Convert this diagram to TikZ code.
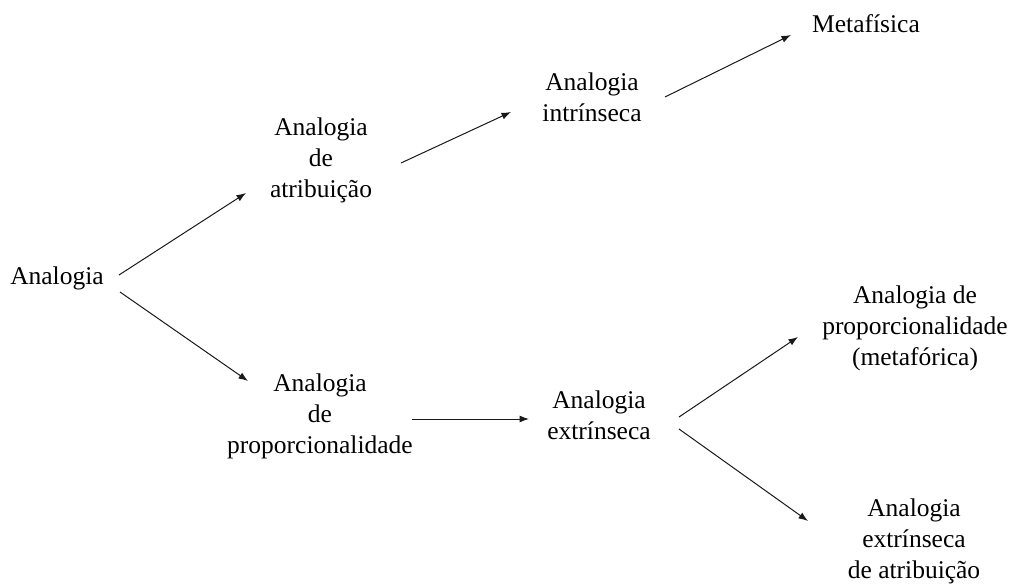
\documentclass[tikz,border=0pt]{standalone}
\usepackage{fontspec}
\setmainfont{Liberation Serif}
\usetikzlibrary{arrows.meta}
\tikzset{
  lbl/.style={anchor=north, inner sep=0pt, align=center,
    font=\fontsize{25.5bp}{31bp}\selectfont, execute at begin node=\strut},
  arr/.style={line width=1bp, draw=black!90, -{Latex[length=9.5bp,width=7bp]}}
}
\begin{document}
\begin{tikzpicture}[x=1bp,y=-1bp]
\useasboundingbox (0,0) rectangle (1015,587);
% nodes (north = first baseline - 0.7*31)
\node[lbl] (an)     at (57,262.3)  {Analogia};
\node[lbl] (atr)    at (321,117.3) {Analogia\\de\\atribuição};
\node[lbl] (intr)   at (592,72.3)  {Analogia\\intrínseca};
\node[lbl] (meta)   at (866,10.3)  {Metafísica};
\node[lbl] (prop)   at (320,373.3) {Analogia\\de\\proporcionalidade};
\node[lbl] (extr)   at (599,390.3) {Analogia\\extrínseca};
\node[lbl] (metaf)  at (915,285.3) {Analogia de\\proporcionalidade\\(metafórica)};
\node[lbl] (extatr) at (914,498.3) {Analogia\\extrínseca\\de atribuição};
% connector ends
\coordinate (an-o1) at (119,275);  \coordinate (atr-i) at (246,193);
\coordinate (an-o2) at (120,292);  \coordinate (prop-i) at (248,381);
\coordinate (atr-o) at (401,163);  \coordinate (intr-i) at (511,112);
\coordinate (intr-o) at (665,97);  \coordinate (meta-i) at (791,35);
\coordinate (prop-o) at (412,419); \coordinate (extr-i) at (529,419);
\coordinate (extr-o1) at (679,417); \coordinate (metaf-i) at (798,337);
\coordinate (extr-o2) at (679,429); \coordinate (extatr-i) at (808,521);
\draw[arr] (an-o1) -- (atr-i);
\draw[arr] (an-o2) -- (prop-i);
\draw[arr] (atr-o) -- (intr-i);
\draw[arr] (intr-o) -- (meta-i);
\draw[arr] (prop-o) -- (extr-i);
\draw[arr] (extr-o1) -- (metaf-i);
\draw[arr] (extr-o2) -- (extatr-i);
\end{tikzpicture}
\end{document}
